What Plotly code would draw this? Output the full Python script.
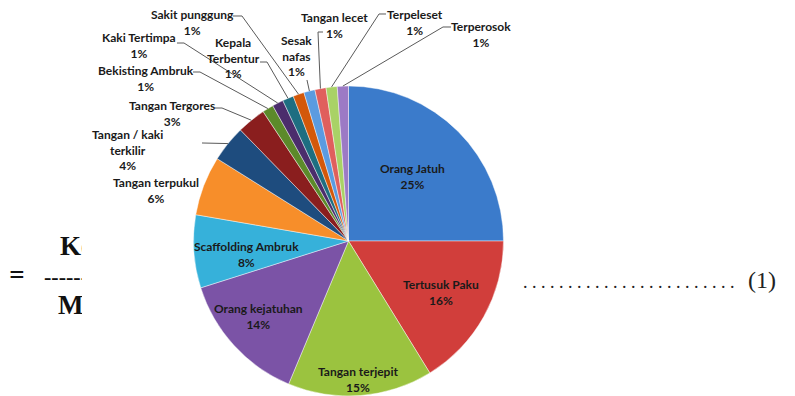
import math
import plotly.graph_objects as go

W, H = 795, 396

# Accident types and their share of all recorded incidents (%)
categories = [
    "Orang Jatuh", "Tertusuk Paku", "Tangan terjepit", "Orang kejatuhan",
    "Scaffolding Ambruk", "Tangan terpukul", "Tangan / kaki terkilir",
    "Tangan Tergores", "Bekisting Ambruk", "Kaki Tertimpa", "Kepala Terbentur",
    "Sakit punggung", "Sesak nafas", "Tangan lecet", "Terpeleset", "Terperosok",
]
share = [25.0, 16.2, 15.1, 13.8, 7.6, 6.2, 3.8, 3.0,
         1.16, 1.16, 1.16, 1.16, 1.16, 1.16, 1.16, 1.16]

colors = [
    "#3b7bcb", "#d13e3b", "#9bc33f", "#7b53a6", "#36b1da", "#f78e2a",
    "#1e4c7e", "#8a1e1e", "#5c8a2a", "#4b2d6c", "#1e6e81", "#d3580a",
    "#5b9be0", "#e05f5d", "#a9d266", "#9c7ac5",
]

# Pie geometry in pixels
CX, CY, R = 348.5, 241.0, 155.0


def px(x):
    return x / W


def py(y):
    return 1 - y / H


total = sum(share)
pct = [round(v / total * 100) for v in share]

# cumulative mid-angle of each slice (degrees clockwise from 12 o'clock)
mid_angle = []
acc = 0.0
for v in share:
    mid_angle.append((acc + v / 2) / total * 360)
    acc += v


def edge_point(i, r_frac=1.0):
    a = math.radians(mid_angle[i])
    return CX + R * r_frac * math.sin(a), CY - R * r_frac * math.cos(a)


# label block centre (px) and leader-line anchor points (px)
label_layout = {
    "Orang Jatuh": ("Orang Jatuh", 412, 176, None),
    "Tertusuk Paku": ("Tertusuk Paku", 441, 292, None),
    "Tangan terjepit": ("Tangan terjepit", 358, 379, None),
    "Orang kejatuhan": ("Orang kejatuhan", 258, 316, None),
    "Scaffolding Ambruk": ("Scaffolding Ambruk", 246, 254, None),
    "Tangan terpukul": ("Tangan terpukul", 156, 190, None),
    "Tangan / kaki terkilir": ("Tangan / kaki<br>terkilir", 127, 150, [(202, 143)]),
    "Tangan Tergores": ("Tangan Tergores", 172, 113, [(215, 108), (222, 108)]),
    "Bekisting Ambruk": ("Bekisting Ambruk", 146, 78, [(193, 72), (200, 72)]),
    "Kaki Tertimpa": ("Kaki Tertimpa", 139, 45, [(177, 43), (184, 43)]),
    "Kepala Terbentur": ("Kepala<br>Terbentur", 233, 58, [(260, 62), (267, 62)]),
    "Sakit punggung": ("Sakit punggung", 192, 22, [(233, 16), (242, 16)]),
    "Sesak nafas": ("Sesak<br>nafas", 296, 56, [(307, 80)]),
    "Tangan lecet": ("Tangan lecet", 334, 25, [(323, 32), (318, 32)]),
    "Terpeleset": ("Terpeleset", 415, 22, [(386, 14), (379, 14)]),
    "Terperosok": ("Terperosok", 481, 35, [(451, 27), (443, 27)]),
}

fig = go.Figure()

fig.add_trace(go.Pie(
    labels=categories,
    values=share,
    sort=False,
    direction="clockwise",
    rotation=0,
    marker=dict(colors=colors, line=dict(color="rgba(255,255,255,0.55)", width=0.8)),
    textinfo="none",
    hoverinfo="label+percent",
    showlegend=False,
    domain=dict(x=[px(CX - R), px(CX + R)], y=[py(CY + R), py(CY - R)]),
))

annotations = []
shapes = []
LABEL_FONT = dict(family="Lato, 'Open Sans', sans-serif", size=12, color="#1a1a1a")

for i, name in enumerate(categories):
    text, lx, ly, leader = label_layout[name]
    annotations.append(dict(
        x=px(lx), y=py(ly), xref="paper", yref="paper",
        text=f"<b>{text}<br>{pct[i]}%</b>", showarrow=False,
        xanchor="center", yanchor="middle", align="center", font=LABEL_FONT,
    ))
    if leader:
        pts = leader + [edge_point(i)]
        path = "M " + " L ".join(f"{px(x):.5f},{py(y):.5f}" for x, y in pts)
        shapes.append(dict(type="path", path=path, xref="paper", yref="paper",
                           line=dict(color="#5a5a5a", width=1)))

# Equation text behind the chart, clipped at the chart's left edge
fig.add_trace(go.Scatter(
    x=[17, 60, 44, 58],
    y=[277, 248, 278, 307],
    mode="text",
    text=["<b>=</b>", "<b>Kecelakaan</b>", "<b>--------------</b>", "<b>Man hours</b>"],
    textposition=["middle center", "middle right", "middle right", "middle right"],
    textfont=dict(family="Liberation Serif, serif", size=[27, 27, 22, 27], color="#111111"),
    cliponaxis=True,
    hoverinfo="skip",
    showlegend=False,
    xaxis="x", yaxis="y",
))

annotations.append(dict(
    x=px(521), y=py(282), xref="paper", yref="paper", xanchor="left", yanchor="middle",
    text=". " * 24, showarrow=False,
    font=dict(family="Liberation Serif, serif", size=18, color="#222222"),
))
annotations.append(dict(
    x=px(762), y=py(280), xref="paper", yref="paper", xanchor="center", yanchor="middle",
    text="(1)", showarrow=False,
    font=dict(family="Liberation Serif, serif", size=24, color="#222222"),
))

fig.update_layout(
    width=W, height=H,
    margin=dict(l=0, r=0, t=0, b=0),
    paper_bgcolor="white", plot_bgcolor="rgba(0,0,0,0)",
    xaxis=dict(domain=[0, 82 / W], range=[0, 82], visible=False, fixedrange=True),
    yaxis=dict(domain=[0, 1], range=[H, 0], visible=False, fixedrange=True),
    annotations=annotations,
    shapes=shapes,
)

fig.write_html("out.html")
